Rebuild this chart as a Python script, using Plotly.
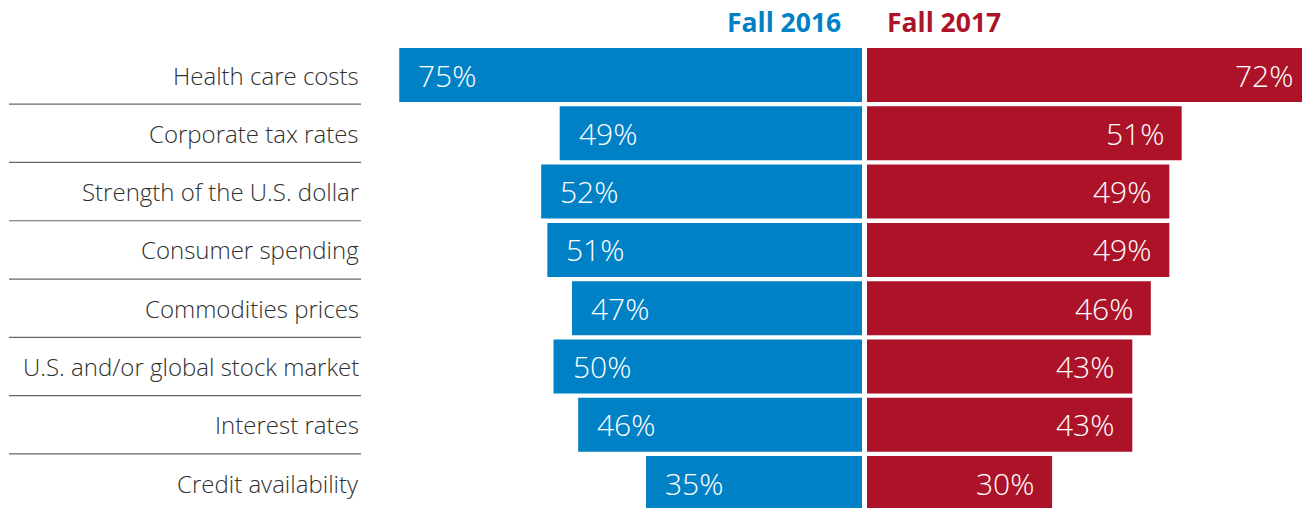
import plotly.graph_objects as go

categories = [
    "Health care costs",
    "Corporate tax rates",
    "Strength of the U.S. dollar",
    "Consumer spending",
    "Commodities prices",
    "U.S. and/or global stock market",
    "Interest rates",
    "Credit availability",
]
fall_2016 = [75, 49, 52, 51, 47, 50, 46, 35]
fall_2017 = [72, 51, 49, 49, 46, 43, 43, 30]
series_names = ["Fall 2016", "Fall 2017"]

BLUE = "#0081C6"
RED = "#AD1328"
TEXT = "#303030"
W, H = 1312, 508       # figure is slightly wider so the 72% bar runs off the 1302px window
PX_PER_PCT = 6.17
LEFT_END = 862
RIGHT_START = 867
PITCH = 58.3
ROW0_CENTER = 75

fig = go.Figure()
fig.add_trace(go.Bar(
    y=categories, x=fall_2016, orientation="h", name=series_names[0],
    marker=dict(color=BLUE, line=dict(width=0)), xaxis="x", yaxis="y",
    hoverinfo="skip",
))
fig.add_trace(go.Bar(
    y=categories, x=fall_2017, orientation="h", name=series_names[1],
    marker=dict(color=RED, line=dict(width=0)), xaxis="x2", yaxis="y",
    hoverinfo="skip",
))

annotations = []
pct_font = dict(family="Open Sans", size=30, color="white", weight=300)
for cat, v in zip(categories, fall_2016):
    annotations.append(dict(
        x=v, y=cat, xref="x", yref="y", text=f"{v}%", showarrow=False,
        xanchor="left", yanchor="middle", xshift=17, font=pct_font,
    ))
for cat, v in zip(categories, fall_2017):
    annotations.append(dict(
        x=v, y=cat, xref="x2", yref="y", text=f"{v}%",
        showarrow=False, xanchor="right", yanchor="middle", xshift=-16,
        font=pct_font,
    ))
for cat in categories:
    annotations.append(dict(
        x=361 / W, y=cat, xref="paper", yref="y", text=cat, showarrow=False,
        xanchor="right", yanchor="middle",
        font=dict(family="Open Sans", size=24, color=TEXT, weight=300),
    ))
# headers
annotations.append(dict(
    x=0, xref="x", y=1 - 22 / H, yref="paper", text=series_names[0],
    showarrow=False, xanchor="right", yanchor="middle", xshift=-19,
    font=dict(family="Open Sans", size=26.5, color=BLUE, weight=700),
))
annotations.append(dict(
    x=0, xref="x2", y=1 - 22 / H, yref="paper", text=series_names[1],
    showarrow=False, xanchor="left", yanchor="middle", xshift=18,
    font=dict(family="Open Sans", size=26.5, color=RED, weight=700),
))

shapes = []
for i in range(len(categories) - 1):
    shapes.append(dict(
        type="line", xref="paper", yref="y", x0=9 / W, x1=361 / W,
        y0=i + 0.5, y1=i + 0.5, line=dict(color="#666666", width=1.2),
    ))

top = -ROW0_CENTER / PITCH
bottom = top + H / PITCH

fig.update_layout(
    width=W, height=H,
    margin=dict(l=0, r=0, t=0, b=0, pad=0),
    paper_bgcolor="white", plot_bgcolor="white",
    showlegend=False, bargap=1 - 54 / PITCH,
    xaxis=dict(domain=[0, LEFT_END / W], range=[LEFT_END / PX_PER_PCT, 0],
               showgrid=False, zeroline=False, showticklabels=False,
               showline=False, fixedrange=True),
    xaxis2=dict(domain=[RIGHT_START / W, 1],
                range=[0, (W - RIGHT_START) / PX_PER_PCT], anchor="y",
                showgrid=False, zeroline=False, showticklabels=False,
                showline=False, fixedrange=True),
    yaxis=dict(type="category", categoryorder="array", categoryarray=categories,
               range=[bottom, top], showgrid=False, zeroline=False,
               showticklabels=False, showline=False, fixedrange=True),
    annotations=annotations, shapes=shapes,
)

fig.write_html(
    "out.html",
    config={"displayModeBar": False},
    post_script="document.body.style.margin='0';document.body.style.overflow='hidden';",
)
